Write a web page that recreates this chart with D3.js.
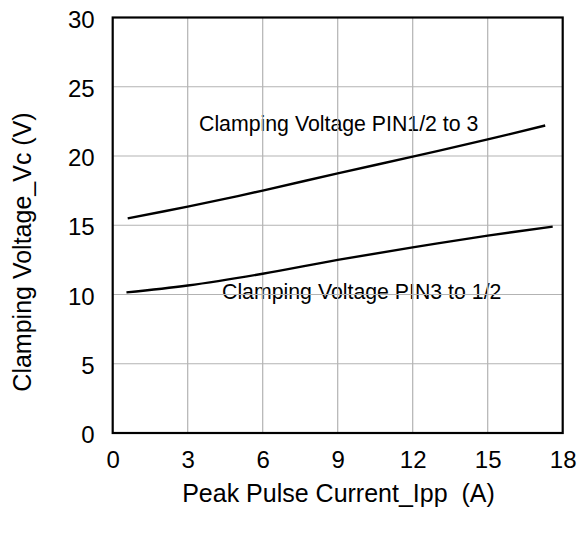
<!DOCTYPE html>
<html><head><meta charset="utf-8">
<script src="https://cdn.jsdelivr.net/npm/d3@7"></script>
<style>body{margin:0;background:#fff}svg{display:block}text{font-family:"Liberation Sans",Arial,sans-serif;fill:#000;white-space:pre}</style>
</head><body>
<script>
const xTicks = [0, 3, 6, 9, 12, 15, 18];
const yTicks = [0, 5, 10, 15, 20, 25, 30];
const upperI = [0.6, 3, 6, 9, 12, 15, 17.3];
const upperV = [15.5, 16.35, 17.5, 18.75, 19.95, 21.2, 22.2];
const lowerI = [0.55, 3, 6, 9, 12, 15, 17.6];
const lowerV = [10.15, 10.65, 11.5, 12.5, 13.4, 14.25, 14.9];
const upperLabel = "Clamping Voltage PIN1/2 to 3";
const lowerLabel = "Clamping Voltage PIN3 to 1/2";
const xTitle = "Peak Pulse Current_Ipp  (A)";
const yTitle = "Clamping Voltage_Vc (V)";

const W = 583, H = 538;
const m = {left: 112.7, right: 20.3, top: 17.5, bottom: 105};
const svg = d3.select("body").append("svg").attr("width", W).attr("height", H);
const x = d3.scaleLinear().domain([0, 18]).range([m.left, W - m.right]);
const y = d3.scaleLinear().domain([0, 30]).range([H - m.bottom, m.top]);
const FF = '"Liberation Sans",Arial,sans-serif';

// annotations
svg.append("text").attr("x", 199).attr("y", 131).attr("font-size", 21.3).text(upperLabel);
svg.append("text").attr("x", 222).attr("y", 299).attr("font-size", 21.3).text(lowerLabel);

// grid
svg.append("g").selectAll("line").data(xTicks.slice(1, -1)).join("line")
  .attr("x1", d => x(d)).attr("x2", d => x(d)).attr("y1", y(0)).attr("y2", y(30))
  .attr("stroke", "#b3b3b3").attr("stroke-width", 1.2);
svg.append("g").selectAll("line").data(yTicks.slice(1, -1)).join("line")
  .attr("y1", d => y(d)).attr("y2", d => y(d)).attr("x1", x(0)).attr("x2", x(18))
  .attr("stroke", "#b3b3b3").attr("stroke-width", 1.2);

// frame
svg.append("rect").attr("x", x(0)).attr("y", y(30)).attr("width", x(18) - x(0)).attr("height", y(0) - y(30))
  .attr("fill", "none").attr("stroke", "#000").attr("stroke-width", 2.2);

// axes
const xa = svg.append("g").attr("transform", `translate(0,${y(0)})`)
  .call(d3.axisBottom(x).tickValues(xTicks).tickSize(0).tickPadding(18));
xa.select(".domain").remove();
xa.selectAll("text").attr("font-size", 24).style("font-family", FF);
const ya = svg.append("g").attr("transform", `translate(${x(0)},0)`)
  .call(d3.axisLeft(y).tickValues(yTicks).tickSize(0).tickPadding(18));
ya.select(".domain").remove();
ya.selectAll("text").attr("font-size", 24).attr("dy", "0.4em").style("font-family", FF);

// lines
const line = d3.line().x(d => x(d[0])).y(d => y(d[1])).curve(d3.curveCatmullRom);
svg.append("path").datum(d3.zip(upperI, upperV)).attr("d", line)
  .attr("fill", "none").attr("stroke", "#000").attr("stroke-width", 2.4);
svg.append("path").datum(d3.zip(lowerI, lowerV)).attr("d", line)
  .attr("fill", "none").attr("stroke", "#000").attr("stroke-width", 2.4);

// titles
svg.append("text").attr("x", 338.5).attr("y", 502).attr("text-anchor", "middle")
  .attr("font-size", 25).text(xTitle);
svg.append("text").attr("transform", `translate(31,252) rotate(-90)`)
  .attr("text-anchor", "middle").attr("font-size", 25).text(yTitle);
</script>
</body></html>
